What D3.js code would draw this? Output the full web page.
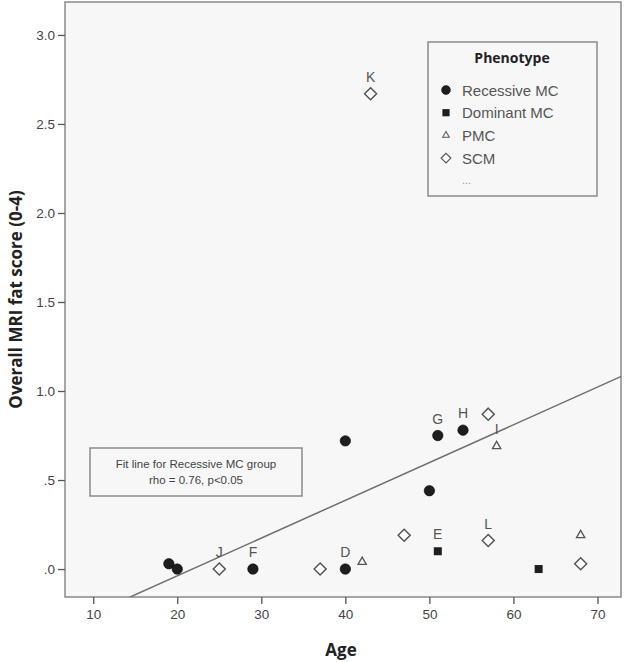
<!DOCTYPE html>
<html>
<head>
<meta charset="utf-8">
<script src="https://cdnjs.cloudflare.com/ajax/libs/d3/7.8.5/d3.min.js"></script>
<style>
  body { margin: 0; background: #fff; }
  text { font-family: "Liberation Sans", Arial, sans-serif; }
</style>
</head>
<body>
<script>
  // values
  var phenotypes = ["Recessive MC", "Dominant MC", "PMC", "SCM"];

  var recessiveAge = [19, 20, 29, 40, 40, 50, 51, 54];
  var recessiveFat = [0.03, 0.0, 0.0, 0.72, 0.0, 0.44, 0.75, 0.78];
  var recessiveLbl = ["", "", "F", "", "D", "", "G", "H"];

  var dominantAge = [51, 63];
  var dominantFat = [0.10, 0.0];
  var dominantLbl = ["E", ""];

  var pmcAge = [42, 58, 68];
  var pmcFat = [0.04, 0.69, 0.19];
  var pmcLbl = ["", "I", ""];

  var scmAge = [43, 25, 37, 47, 57, 57, 68];
  var scmFat = [2.67, 0.0, 0.0, 0.19, 0.16, 0.87, 0.03];
  var scmLbl = ["K", "J", "", "", "L", "", ""];

  var xTicks = [10, 20, 30, 40, 50, 60, 70];
  var yTicks = [0, 0.5, 1.0, 1.5, 2.0, 2.5, 3.0];
  var yTickLabels = [".0", ".5", "1.0", "1.5", "2.0", "2.5", "3.0"];

  // fit line for recessive group (intercept, slope)
  var fitCoef = [-0.462, 0.0212];
  var fitText = ["Fit line for Recessive MC group", "rho = 0.76, p<0.05"];

  var W = 625, H = 662;
  var pL = 65, pR = 621, pT = 2, pB = 597;

  var x = d3.scaleLinear().domain([6.64, 72.8]).range([pL, pR]);
  var y = d3.scaleLinear().domain([-0.157, 3.185]).range([pB, pT]);

  var svg = d3.select("body").append("svg")
    .attr("width", W).attr("height", H);

  svg.append("rect")
    .attr("x", pL).attr("y", pT)
    .attr("width", pR - pL).attr("height", pB - pT)
    .attr("fill", "#f7f7f7")
    .attr("stroke", "#8a8a8a")
    .attr("stroke-width", 1.5);

  var xAxis = svg.append("g")
    .attr("transform", "translate(0," + pB + ")")
    .call(d3.axisBottom(x).tickValues(xTicks).tickSize(7).tickPadding(5).tickFormat(d3.format("d")));
  var yAxis = svg.append("g")
    .attr("transform", "translate(" + pL + ",0)")
    .call(d3.axisLeft(y).tickValues(yTicks).tickSize(7).tickPadding(3)
      .tickFormat(function(d, i) { return yTickLabels[i]; }));

  [xAxis, yAxis].forEach(function(g) {
    g.select(".domain").remove();
    g.selectAll("line").attr("stroke", "#555").attr("stroke-width", 1.3);
    g.selectAll("text").attr("fill", "#444").style("font-size", "13.5px")
      .style("font-family", "'Liberation Sans', Arial, sans-serif");
  });

  svg.append("text")
    .attr("x", (pL + pR) / 2 - 2).attr("y", 656)
    .attr("text-anchor", "middle")
    .style("font-size", "17px").style("font-weight", "bold").attr("fill", "#222")
    .style("font-family", "'Open Sans', sans-serif")
    .text("Age");

  svg.append("text")
    .attr("transform", "translate(22," + ((pT + pB) / 2) + ") rotate(-90)")
    .attr("text-anchor", "middle")
    .style("font-size", "17px").style("font-weight", "bold").attr("fill", "#222")
    .style("font-family", "'Open Sans', sans-serif")
    .text("Overall MRI fat score (0-4)");

  // fit line, clipped to the frame
  svg.append("clipPath").attr("id", "frame")
    .append("rect").attr("x", pL).attr("y", pT)
    .attr("width", pR - pL).attr("height", pB - pT);

  var fitAges = [0, 80];
  svg.append("line")
    .attr("clip-path", "url(#frame)")
    .attr("x1", x(fitAges[0])).attr("y1", y(fitCoef[0] + fitCoef[1] * fitAges[0]))
    .attr("x2", x(fitAges[1])).attr("y2", y(fitCoef[0] + fitCoef[1] * fitAges[1]))
    .attr("stroke", "#6e6e6e").attr("stroke-width", 1.5);

  function build(ages, fats, lbls, type) {
    return ages.map(function(a, i) { return { age: a, fat: fats[i], label: lbls[i], type: type }; });
  }
  var points = [].concat(
    build(recessiveAge, recessiveFat, recessiveLbl, 0),
    build(dominantAge, dominantFat, dominantLbl, 1),
    build(pmcAge, pmcFat, pmcLbl, 2),
    build(scmAge, scmFat, scmLbl, 3)
  );

  function drawMarker(g, type) {
    if (type === 0) {
      g.append("circle").attr("r", 5.2).attr("fill", "#1e1e1e").attr("stroke", "#000").attr("stroke-width", 0.6);
    } else if (type === 1) {
      g.append("rect").attr("x", -4).attr("y", -4).attr("width", 8).attr("height", 8)
        .attr("fill", "#1e1e1e");
    } else if (type === 2) {
      g.append("path").attr("d", d3.symbol().type(d3.symbolTriangle).size(30)())
        .attr("fill", "none").attr("stroke", "#555").attr("stroke-width", 1.3);
    } else {
      g.append("path").attr("d", "M0,-6L6,0L0,6L-6,0Z")
        .attr("fill", "#fff").attr("stroke", "#555").attr("stroke-width", 1.5);
    }
  }

  var marks = svg.selectAll("g.pt").data(points).enter().append("g")
    .attr("class", "pt")
    .attr("transform", function(d) { return "translate(" + x(d.age) + "," + y(d.fat) + ")"; });
  marks.each(function(d) { drawMarker(d3.select(this), d.type); });

  svg.selectAll("text.lbl").data(points.filter(function(d) { return d.label; })).enter()
    .append("text").attr("class", "lbl")
    .attr("x", function(d) { return x(d.age); })
    .attr("y", function(d) { return y(d.fat) - 12; })
    .attr("text-anchor", "middle")
    .style("font-size", "14px").attr("fill", "#555")
    .text(function(d) { return d.label; });

  // fit line note
  var note = svg.append("g");
  note.append("rect").attr("x", 90).attr("y", 448).attr("width", 212).attr("height", 48)
    .attr("fill", "#f7f7f7").attr("stroke", "#8a8a8a").attr("stroke-width", 1.5);
  note.selectAll("text").data(fitText).enter().append("text")
    .attr("x", 196).attr("y", function(d, i) { return 468 + i * 16; })
    .attr("text-anchor", "middle")
    .style("font-size", "11.5px").attr("fill", "#444")
    .text(function(d) { return d; });

  // legend
  var lg = svg.append("g");
  lg.append("rect").attr("x", 428).attr("y", 42).attr("width", 169).attr("height", 154)
    .attr("fill", "#f7f7f7").attr("stroke", "#8a8a8a").attr("stroke-width", 1.5);
  lg.append("text").attr("x", 512).attr("y", 63).attr("text-anchor", "middle")
    .style("font-size", "14px").style("font-weight", "bold").attr("fill", "#222")
    .style("font-family", "'Open Sans', sans-serif")
    .text("Phenotype");
  var items = lg.selectAll("g.it").data(phenotypes).enter().append("g")
    .attr("class", "it")
    .attr("transform", function(d, i) { return "translate(446," + (90 + i * 22.7) + ")"; });
  items.each(function(d, i) {
    var m = d3.select(this).append("g").attr("transform", i === 1 ? "scale(0.9)" : (i === 0 ? "scale(0.85)" : "scale(0.8)"));
    drawMarker(m, i);
  });
  items.append("text").attr("x", 16).attr("y", 5.5)
    .style("font-size", "15px").attr("fill", "#555")
    .text(function(d) { return d; });
  lg.append("text").attr("x", 462).attr("y", 184)
    .style("font-size", "11px").attr("fill", "#999")
    .text("...");
</script>
</body>
</html>
